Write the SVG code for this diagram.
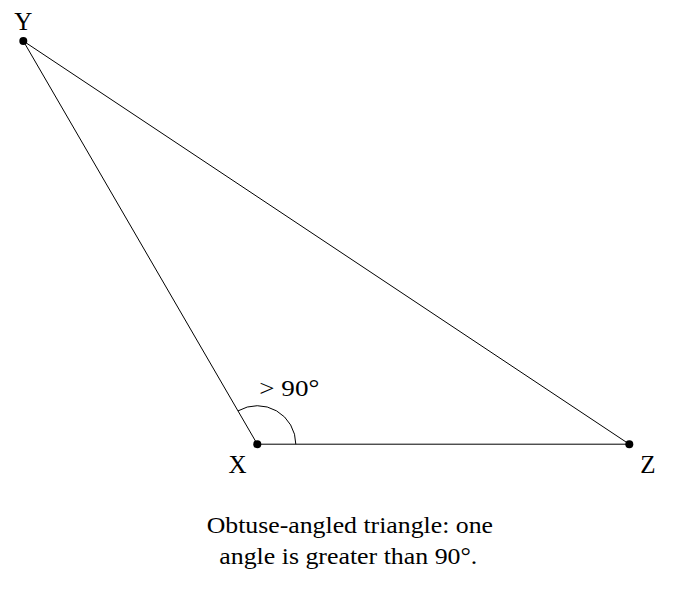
<svg xmlns="http://www.w3.org/2000/svg" width="679" height="591" viewBox="0 0 679 591">
<style>
.edge{stroke:#000;stroke-width:1;fill:none}
.dot{fill:#000}
.lbl{font-family:"Liberation Serif","Times New Roman",serif;font-size:25px;fill:#000;text-anchor:middle}
.cap{font-family:"Liberation Serif","Times New Roman",serif;font-size:22.5px;fill:#000}
</style>
<rect width="679" height="591" fill="#fff"/>
<g id="connectors">
<line class="edge" x1="23.3" y1="41" x2="257.3" y2="444.2"/>
<line class="edge" x1="23.3" y1="41" x2="629.3" y2="444.2"/>
<line class="edge" x1="257.3" y1="444.2" x2="629.3" y2="444.2"/>
<path class="edge" d="M295.8,444.2 A38.5,38.5 0 0 0 238,410.9"/>
</g>
<g id="node-Y"><circle class="dot" cx="23.3" cy="41" r="4"/><text class="lbl" x="23.3" y="29.5">Y</text></g>
<g id="node-X"><circle class="dot" cx="257.3" cy="444.2" r="4"/><text class="lbl" x="237.5" y="473">X</text></g>
<g id="node-Z"><circle class="dot" cx="629.3" cy="444.2" r="4"/><text class="lbl" x="648" y="473">Z</text></g>
<g id="angle-label"><text class="cap" x="259.3" y="395.5" textLength="60" lengthAdjust="spacingAndGlyphs">&gt; 90°</text></g>
<g id="caption">
<text class="cap" x="206.7" y="532.5" textLength="286.3" lengthAdjust="spacingAndGlyphs">Obtuse-angled triangle: one</text>
<text class="cap" x="219.3" y="564" textLength="258" lengthAdjust="spacingAndGlyphs">angle is greater than 90°.</text>
</g>
</svg>
